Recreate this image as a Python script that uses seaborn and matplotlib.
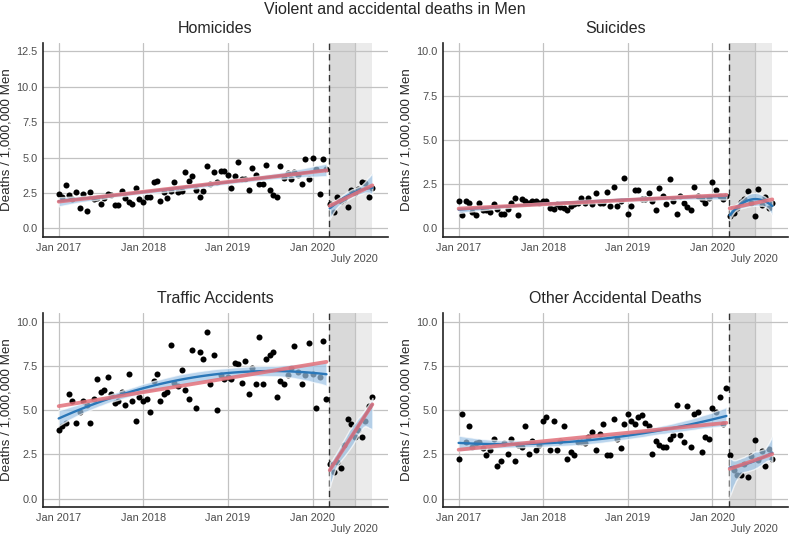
import numpy as np
import pandas as pd
import seaborn as sns
import matplotlib.pyplot as plt
import matplotlib.dates as mdates

# half-month periods before and after the March 2020 break
pre_dates = pd.date_range("2017-01-01", "2020-03-01", freq="SMS")
post_dates = pd.date_range("2020-03-15", "2020-09-15", freq="SMS")

# deaths per 1,000,000 men
homicides_pre = [2.45, 2.2, 3.07, 2.35, 2.05, 2.55, 1.43, 2.45, 1.25, 2.55, 2.1, 2.15, 1.75,
                 2.15, 2.45, 2.4, 1.66, 1.66, 2.66, 2.15, 1.84, 1.75, 2.86, 2.05, 1.84, 2.25,
                 2.25, 3.27, 3.36, 1.93, 2.55, 2.15, 2.66, 3.27, 2.55, 2.66, 3.98, 3.36, 3.68,
                 2.75, 2.25, 2.66, 4.39, 3.15, 3.98, 3.27, 4.09, 4.09, 3.77, 2.86, 3.68, 4.7,
                 3.48, 3.5, 2.75, 4.3, 3.77, 3.16, 3.16, 4.5, 2.75, 2.34, 2.25, 4.39, 3.57,
                 3.89, 3.48, 3.98, 3.77, 3.16, 4.91, 3.48, 5.0, 4.2, 2.45, 4.91, 4.2]
homicides_post = [1.73, 1.18, 2.23, 1.95, 2.1, 1.5, 2.73, 2.5, 2.77, 3.27, 3.18, 2.23, 2.86]

suicides_pre = [1.55, 0.74, 1.55, 1.46, 0.93, 0.74, 1.46, 1.02, 1.02, 0.93, 1.36, 1.1, 0.83,
                0.83, 1.1, 1.46, 1.74, 0.74, 1.65, 1.55, 1.46, 1.55, 1.55, 1.46, 1.55, 1.55,
                1.17, 1.1, 1.36, 1.19, 1.17, 1.02, 1.27, 1.36, 1.46, 1.74, 1.46, 1.74, 1.36,
                1.99, 1.46, 1.46, 2.08, 1.27, 2.37, 1.27, 1.55, 2.88, 0.83, 1.27, 2.18, 2.18,
                1.65, 1.65, 1.99, 1.55, 1.02, 2.27, 1.84, 1.36, 2.78, 1.55, 0.83, 1.84, 1.46,
                1.19, 1.02, 2.37, 1.84, 1.65, 1.46, 1.74, 2.6, 2.18, 1.84, 1.65, 1.84]
suicides_post = [0.72, 0.85, 1.14, 1.5, 1.65, 2.12, 1.46, 0.7, 2.23, 1.33, 1.8, 1.14, 1.46]

traffic_pre = [3.89, 4.08, 4.29, 5.93, 5.52, 4.29, 4.89, 5.52, 5.31, 4.29, 5.63, 6.76, 6.02,
               6.13, 6.85, 5.93, 5.42, 5.52, 6.02, 5.31, 7.06, 5.52, 4.38, 5.72, 5.52, 5.63,
               4.89, 6.65, 7.06, 5.52, 5.93, 6.02, 8.7, 6.55, 6.36, 7.28, 6.13, 5.63, 8.41,
               5.1, 8.3, 7.88, 9.43, 6.46, 8.1, 5.0, 6.95, 6.76, 6.85, 6.76, 7.67, 7.58, 6.55,
               7.79, 5.93, 7.37, 6.46, 9.11, 6.46, 7.88, 8.1, 8.3, 5.72, 6.65, 6.46, 6.95,
               7.37, 8.6, 7.16, 6.46, 6.95, 8.81, 7.06, 5.1, 6.85, 8.9, 5.63]
traffic_post = [1.95, 1.52, 2.05, 1.72, 3.05, 4.5, 4.2, 3.47, 3.85, 3.47, 4.38, 5.22, 5.73]

other_pre = [2.25, 4.8, 3.21, 4.1, 2.93, 3.12, 3.21, 2.84, 2.44, 2.74, 3.36, 1.85, 2.14,
             3.12, 2.53, 3.36, 2.14, 3.02, 2.93, 4.1, 2.53, 3.27, 2.74, 3.02, 4.39, 4.6,
             2.74, 4.39, 2.74, 3.27, 4.1, 2.25, 2.65, 2.44, 3.18, 3.18, 3.12, 3.46, 3.78,
             2.74, 3.67, 4.2, 2.44, 2.44, 4.5, 3.36, 2.84, 4.2, 4.8, 4.39, 4.2, 4.6, 4.7,
             4.29, 4.1, 2.53, 3.27, 3.02, 2.93, 2.93, 3.36, 3.57, 5.31, 3.57, 3.18, 5.22,
             2.93, 4.8, 4.9, 2.65, 3.46, 3.36, 5.1, 4.9, 5.73, 4.2, 6.24]
other_post = [2.48, 1.62, 1.34, 1.34, 1.93, 1.2, 2.39, 3.28, 2.15, 2.66, 1.81, 2.77, 2.25]

titles = ["Homicides", "Suicides", "Traffic Accidents", "Other Accidental Deaths"]
pre_values = [homicides_pre, suicides_pre, traffic_pre, other_pre]
post_values = [homicides_post, suicides_post, traffic_post, other_post]
y_tops = [12.5, 10.0, 10.0, 10.0]

break_date = pd.Timestamp("2020-03-14")
july_date = pd.Timestamp("2020-07-01")
tick_dates = pd.to_datetime(["2017-01-01", "2018-01-01", "2019-01-01", "2020-01-01", "2020-07-01"])
tick_labels = ["Jan 2017", "Jan 2018", "Jan 2019", "Jan 2020", "\nJuly 2020"]

BLUE = "#2A77B8"
BAND = "#9EC4E6"
RED = "#E2707A"

sns.set_theme(style="whitegrid")
plt.rcParams["font.family"] = ["Liberation Sans", "DejaVu Sans"]

fig, axes = plt.subplots(2, 2, figsize=(7.89, 5.36), dpi=100)
fig.subplots_adjust(left=43/789, right=788/789, top=1-43/536, bottom=1-507/536,
                    wspace=0.159, hspace=0.392)

x_pre = mdates.date2num(pre_dates)
x_post = mdates.date2num(post_dates)
x_break = mdates.date2num(break_date)
x_july = mdates.date2num(july_date)
x_end = x_post[-1]
span = x_end - x_pre[0]

for ax, title, pre, post, ytop in zip(axes.flat, titles, pre_values, post_values, y_tops):
    ax.axvspan(x_break, x_july, color="#D9D9D9", lw=0, zorder=0.2)
    ax.axvspan(x_july, x_end, color="#EBEBEB", lw=0, zorder=0.2)

    sns.scatterplot(x=np.concatenate([x_pre, x_post]), y=np.concatenate([pre, post]),
                    color="black", s=19, linewidth=0, ax=ax, zorder=3)

    for xs, ys in [(x_pre, pre), (x_post, post)]:
        sns.regplot(x=xs, y=ys, order=2, scatter=False, ax=ax, color=BLUE, seed=3,
                    n_boot=500, ci=90, line_kws=dict(lw=1.7, zorder=4.5))
        band = ax.collections[-1]
        band.set_facecolor(BAND)
        band.set_alpha(0.7)
        band.set_zorder(4)
        sns.regplot(x=xs, y=ys, order=1, ci=None, scatter=False, ax=ax, color=RED,
                    line_kws=dict(lw=2.7, alpha=0.85, zorder=5))

    ax.axvline(x_break, color="#333333", ls=(0, (4.5, 3)), lw=1, zorder=2)

    pad = ytop * 0.048
    ax.set_ylim(-pad, ytop + pad)
    ax.set_yticks(np.arange(0, ytop + 0.1, 2.5))
    ax.set_yticklabels([f"{v:.1f}" for v in np.arange(0, ytop + 0.1, 2.5)])
    ax.set_xlim(x_pre[0] - 0.05 * span, x_end + 0.05 * span)
    ax.set_xticks(mdates.date2num(tick_dates))
    ax.set_xticklabels(tick_labels)

    ax.set_axisbelow(True)
    ax.grid(True, color="#C2C2C2", lw=0.9)
    for side in ["top", "right"]:
        ax.spines[side].set_visible(False)
    for side in ["left", "bottom"]:
        ax.spines[side].set_color("#222222")
        ax.spines[side].set_linewidth(1.2)
    ax.tick_params(axis="both", length=2.5, width=0.8, color="#333333",
                   labelsize=7.9, labelcolor="#4D4D4D", pad=1.5)

    ax.set_title(title, fontsize=11.5, pad=7)
    ax.set_xlabel("")
    ax.set_ylabel("Deaths / 1,000,000 Men", fontsize=9.6)
    ax.yaxis.set_label_coords(-0.087, 0.5)

fig.text(0.5, 1 - 9/536, "Violent and accidental deaths in Men", ha="center", va="center",
         fontsize=11.5)

fig.savefig("out.png", dpi=100)
